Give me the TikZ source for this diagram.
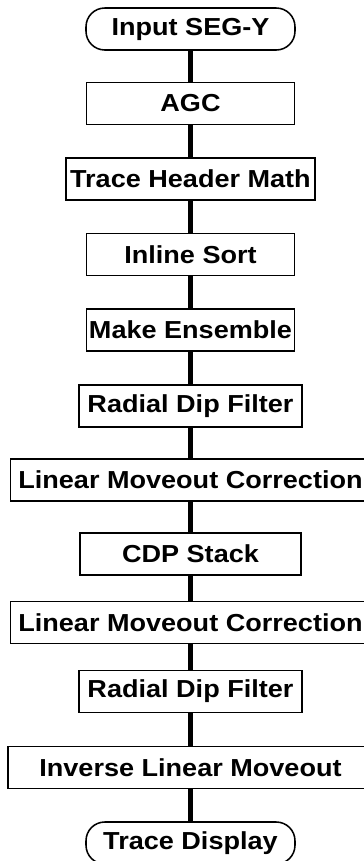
\documentclass[tikz,border=0pt]{standalone}
\usepackage{fontspec}
\setmainfont{Liberation Sans}
\usepackage{xcolor}
\newcommand{\stepname}[1]{\scalebox{1.1}[1]{#1}}

\begin{document}
\begin{tikzpicture}[
  step box/.style={
    rectangle, draw=black, line width=1.1pt,
    minimum height=1.05cm, inner sep=0pt,
    font=\fontsize{17.5}{21}\selectfont\bfseries
  },
  terminal/.style={step box, rounded corners=0.47cm, minimum width=5.225cm},
  flow/.style={line width=3.9pt},
]
  \useasboundingbox (0,0) rectangle (9.1,-21.525);

  \node[terminal] (input)  at (4.7625, -0.725)
    {\stepname{Input SEG-Y}};
  \node[step box, minimum width=5.2cm]   (agc)    at (4.7625, -2.5875)
    {\stepname{AGC}};
  \node[step box, minimum width=6.225cm] (hdrmath) at (4.7625, -4.475)
    {\stepname{Trace Header Math}};
  \node[step box, minimum width=5.2cm]   (sort)   at (4.7625, -6.3625)
    {\stepname{Inline Sort}};
  \node[step box, minimum width=5.2cm]   (ensemble) at (4.7625, -8.25)
    {\stepname{Make Ensemble}};
  \node[step box, minimum width=5.575cm] (rdfa)   at (4.7625, -10.15)
    {\stepname{Radial Dip Filter}};
  \node[step box, minimum width=9.0cm]   (lmoa)   at (4.7625, -12.0)
    {\stepname{Linear Moveout Correction}};
  \node[step box, minimum width=5.525cm] (stack)  at (4.7625, -13.85)
    {\stepname{CDP Stack}};
  \node[step box, minimum width=9.0cm]   (lmob)   at (4.7625, -15.5625)
    {\stepname{Linear Moveout Correction}};
  \node[step box, minimum width=5.575cm] (rdfb)   at (4.7625, -17.2875)
    {\stepname{Radial Dip Filter}};
  \node[step box, minimum width=9.125cm] (invlmo) at (4.7625, -19.1875)
    {\stepname{Inverse Linear Moveout}};
  \node[terminal] (display) at (4.7625, -21.075)
    {\stepname{Trace Display}};

  \draw[flow] (input)    -- (agc);
  \draw[flow] (agc)      -- (hdrmath);
  \draw[flow] (hdrmath)  -- (sort);
  \draw[flow] (sort)     -- (ensemble);
  \draw[flow] (ensemble) -- (rdfa);
  \draw[flow] (rdfa)     -- (lmoa);
  \draw[flow] (lmoa)     -- (stack);
  \draw[flow] (stack)    -- (lmob);
  \draw[flow] (lmob)     -- (rdfb);
  \draw[flow] (rdfb)     -- (invlmo);
  \draw[flow] (invlmo)   -- (display);
\end{tikzpicture}
\end{document}
